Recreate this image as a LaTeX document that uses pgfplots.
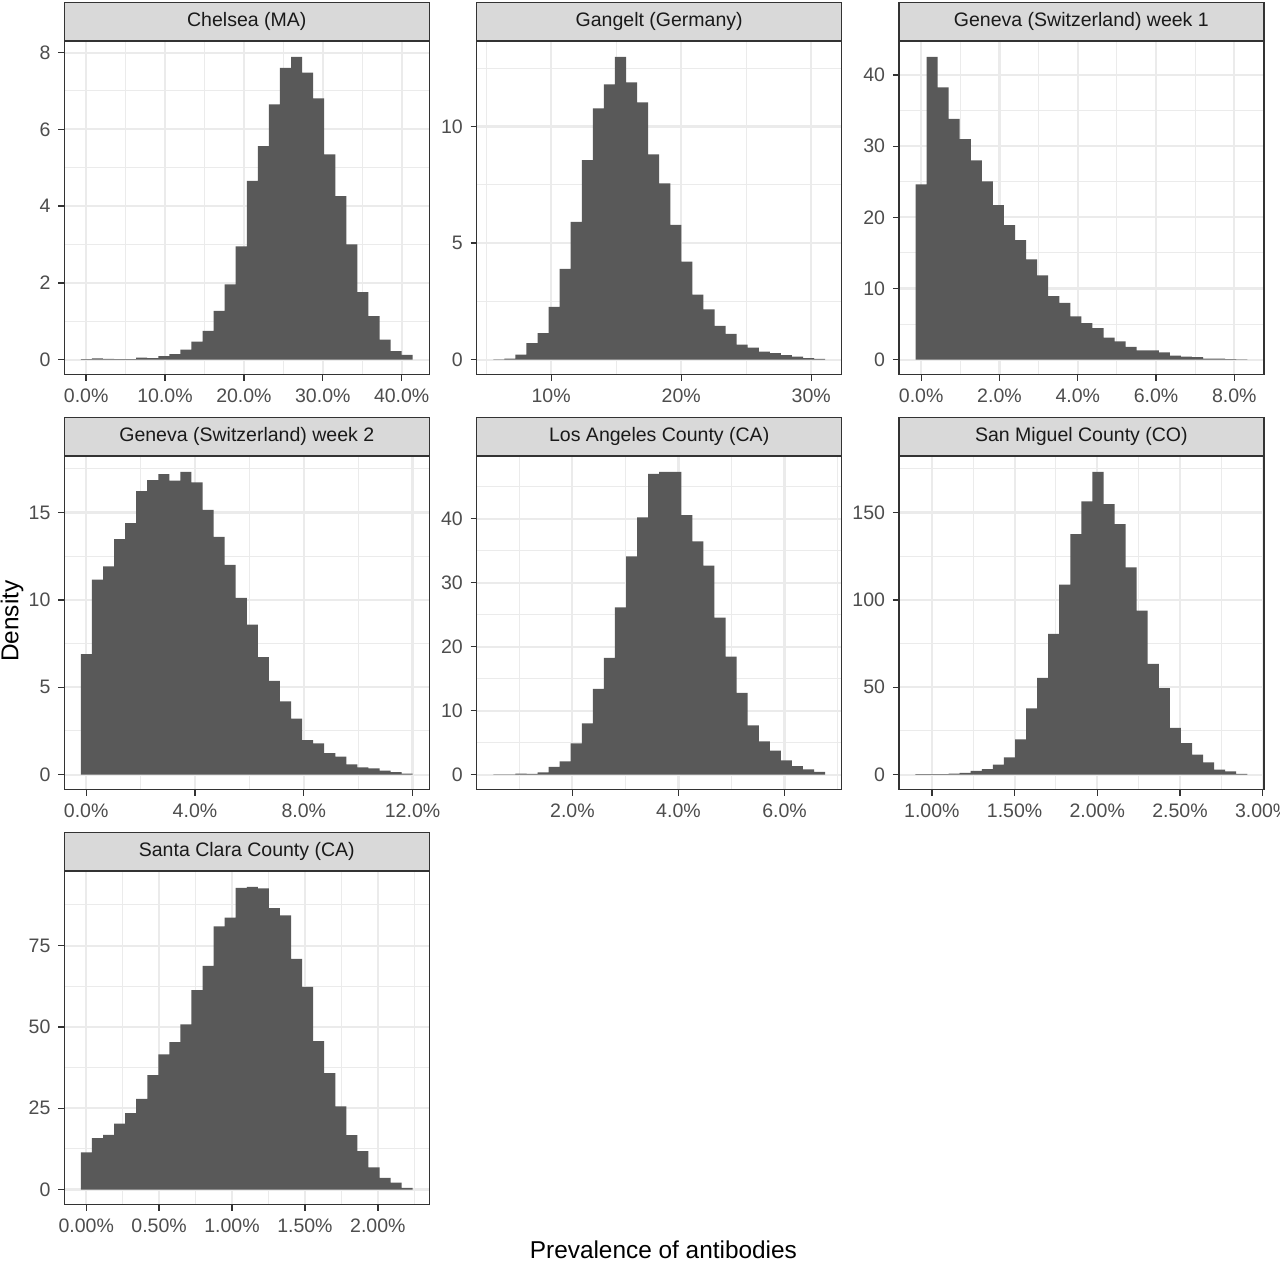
\documentclass[border=0pt]{standalone}
\usepackage{pgfplots}
\pgfplotsset{compat=1.18}
\usepackage{fontspec}
\setmainfont{Liberation Sans}
\definecolor{barfill}{HTML}{595959}
\definecolor{stripfill}{HTML}{D9D9D9}
\definecolor{framec}{HTML}{333333}
\definecolor{gridc}{HTML}{EBEBEB}
\definecolor{ticklab}{HTML}{4D4D4D}
\definecolor{striptext}{HTML}{1A1A1A}
\tikzset{strip/.style={anchor=south, fill=stripfill, draw=framec,
      line width=0.6pt, minimum width=164.6pt, minimum height=17.4pt, inner sep=0pt,
      font=\fontsize{8.8}{10}\selectfont, text=striptext}}
\pgfplotsset{
  facet/.style={
    scale only axis, width=164.6pt, height=150.2pt, anchor=north west,
    clip=false,
    axis line style={draw=framec, line width=0.6pt},
    tick align=outside, major tick length=2.75pt, minor tick length=0pt,
    xtick pos=left, ytick pos=left,
    tick style={draw=framec, line width=0.6pt},
    grid=both,
    major grid style={draw=gridc, line width=0.95pt},
    minor grid style={draw=gridc, line width=0.45pt},
    tick label style={font=\fontsize{8.8}{10}\selectfont, text=ticklab},
    /pgf/number format/assume math mode=true,
    scaled ticks=false,
  },
  pct1/.style={xticklabel={\pgfmathprintnumber[fixed,fixed zerofill,precision=1]{\tick}\%}},
  pct0/.style={xticklabel={\pgfmathprintnumber[fixed,precision=0]{\tick}\%}},
  pct2/.style={xticklabel={\pgfmathprintnumber[fixed,fixed zerofill,precision=2]{\tick}\%}},
  hist/.style={fill=barfill, draw=none, const plot, mark=none},
}
\begin{document}
\begin{tikzpicture}
\path[use as bounding box] (0,0) rectangle (577.28pt,-569.61pt);

% Chelsea
\begin{axis}[facet, pct1, at={(29.0pt,-18.8pt)},
  xmin=-2.77, xmax=43.50, ymin=-0.3945, ymax=8.2845,
  xtick={0,10,20,30,40}, minor xtick={5,15,25,35},
  ytick={0,2,4,6,8}, minor ytick={1,3,5,7}]
\addplot[hist] coordinates {
(-0.670,0.01) (0.732,0.03) (2.135,0.02) (3.537,0.01) (4.939,0.01)
(6.342,0.05) (7.744,0.04) (9.146,0.09) (10.548,0.14) (11.951,0.26)
(13.353,0.47) (14.755,0.75) (16.158,1.27) (17.560,1.96) (18.962,2.95)
(20.365,4.66) (21.767,5.56) (23.169,6.65) (24.571,7.60) (25.974,7.89)
(27.376,7.48) (28.778,6.81) (30.181,5.35) (31.583,4.26) (32.985,3.00)
(34.388,1.76) (35.790,1.13) (37.192,0.52) (38.594,0.22) (39.997,0.12)
(41.399,0.12)} \closedcycle;
\node[strip] at (rel axis cs:0.5,1) {Chelsea (MA)};
\end{axis}

% Gangelt
\begin{axis}[facet, pct0, at={(215.0pt,-18.8pt)},
  xmin=4.274, xmax=32.346, ymin=-0.65, ymax=13.64,
  xtick={10,20,30}, minor xtick={5,15,25},
  ytick={0,5,10}, minor ytick={2.5,7.5,12.5}]
\addplot[hist] coordinates {
(5.550,0.01) (6.401,0.04) (7.251,0.21) (8.102,0.71) (8.953,1.13)
(9.804,2.26) (10.654,3.89) (11.505,5.91) (12.356,8.56) (13.206,10.78)
(14.057,11.81) (14.908,12.99) (15.758,11.89) (16.609,11.04) (17.460,8.80)
(18.311,7.56) (19.161,5.78) (20.012,4.20) (20.863,2.79) (21.713,2.15)
(22.564,1.45) (23.415,1.10) (24.265,0.64) (25.116,0.51) (25.967,0.34)
(26.818,0.28) (27.668,0.19) (28.519,0.13) (29.370,0.06) (30.220,0.03)
(31.071,0.03)} \closedcycle;
\node[strip] at (rel axis cs:0.5,1) {Gangelt (Germany)};
\end{axis}

% Geneva week 1
\begin{axis}[facet, pct1, at={(405.4pt,-18.8pt)},
  xmin=-0.569, xmax=8.755, ymin=-2.128, ymax=44.69,
  xtick={0,2,4,6,8}, minor xtick={1,3,5,7},
  ytick={0,10,20,30,40}, minor ytick={5,15,25,35}]
\addplot[hist] coordinates {
(-0.145,24.64) (0.138,42.56) (0.420,38.26) (0.703,33.83) (0.985,30.98)
(1.268,28.00) (1.550,25.06) (1.833,21.70) (2.115,18.90) (2.398,16.80)
(2.680,14.09) (2.963,11.85) (3.245,8.91) (3.528,7.98) (3.810,6.07)
(4.093,5.13) (4.375,4.43) (4.658,3.08) (4.941,2.57) (5.223,1.77)
(5.506,1.31) (5.788,1.31) (6.071,1.03) (6.353,0.56) (6.636,0.42)
(6.918,0.33) (7.201,0.14) (7.483,0.12) (7.766,0.05) (8.048,0.04)
(8.331,0.04)} \closedcycle;
\node[strip] at (rel axis cs:0.5,1) {Geneva (Switzerland) week 1};
\end{axis}

% Geneva week 2
\begin{axis}[facet, pct1, at={(29.0pt,-206.0pt)},
  xmin=-0.805, xmax=12.615, ymin=-0.866, ymax=18.19,
  xtick={0,4,8,12}, minor xtick={2,6,10},
  ytick={0,5,10,15}, minor ytick={2.5,7.5,12.5,17.5}]
\addplot[hist] coordinates {
(-0.195,6.90) (0.212,11.16) (0.618,11.92) (1.025,13.48) (1.432,14.39)
(1.838,16.22) (2.245,16.86) (2.652,17.19) (3.058,16.83) (3.465,17.32)
(3.872,16.73) (4.278,15.15) (4.685,13.61) (5.092,12.00) (5.498,10.11)
(5.905,8.59) (6.312,6.73) (6.718,5.36) (7.125,4.20) (7.532,3.21)
(7.938,1.98) (8.345,1.79) (8.752,1.24) (9.158,1.03) (9.565,0.59)
(9.972,0.42) (10.378,0.36) (10.785,0.23) (11.192,0.15) (11.598,0.06)
(12.005,0.06)} \closedcycle;
\node[strip] at (rel axis cs:0.5,1) {Geneva (Switzerland) week 2};
\end{axis}

% Los Angeles
\begin{axis}[facet, pct1, at={(215.0pt,-206.0pt)},
  xmin=0.195, xmax=7.078, ymin=-2.367, ymax=49.70,
  xtick={2,4,6}, minor xtick={1,3,5,7},
  ytick={0,10,20,30,40}, minor ytick={5,15,25,35,45}]
\addplot[hist] coordinates {
(0.508,0.03) (0.717,0.03) (0.925,0.15) (1.134,0.12) (1.342,0.36)
(1.551,1.20) (1.759,2.08) (1.968,4.89) (2.177,8.01) (2.385,13.42)
(2.594,18.26) (2.802,26.16) (3.011,34.12) (3.219,40.21) (3.428,47.02)
(3.637,47.33) (3.845,47.33) (4.054,40.57) (4.262,36.46) (4.471,32.67)
(4.679,24.55) (4.888,18.47) (5.097,12.80) (5.305,7.70) (5.514,5.20)
(5.722,3.75) (5.931,2.24) (6.139,1.35) (6.348,0.83) (6.557,0.42)
(6.765,0.42)} \closedcycle;
\node[strip] at (rel axis cs:0.5,1) {Los Angeles County (CA)};
\end{axis}

% San Miguel
\begin{axis}[facet, pct2, at={(405.4pt,-206.0pt)},
  xmin=0.8007, xmax=3.0073, ymin=-8.66, ymax=181.86,
  xtick={1,1.5,2,2.5,3}, minor xtick={1.25,1.75,2.25,2.75},
  ytick={0,50,100,150}, minor ytick={25,75,125,175}]
\addplot[hist] coordinates {
(0.901,0.3) (0.968,0.3) (1.035,0.3) (1.102,0.6) (1.168,1.0)
(1.235,2.1) (1.302,3.2) (1.369,5.7) (1.436,9.9) (1.503,20.2)
(1.570,37.9) (1.637,55.4) (1.703,80.5) (1.770,108.7) (1.837,137.6)
(1.904,156.3) (1.971,173.2) (2.038,154.8) (2.105,143.3) (2.171,118.6)
(2.238,93.9) (2.305,63.4) (2.372,49.5) (2.439,26.7) (2.506,18.1)
(2.573,11.4) (2.640,7.0) (2.706,2.9) (2.773,1.9) (2.840,0.4)
(2.907,0.4)} \closedcycle;
\node[strip] at (rel axis cs:0.5,1) {San Miguel County (CO)};
\end{axis}

% Santa Clara
\begin{axis}[facet, pct2, at={(29.0pt,-393.1pt)},
  xmin=-0.1503, xmax=2.3528, ymin=-4.655, ymax=97.76,
  xtick={0,0.5,1,1.5,2}, minor xtick={0.25,0.75,1.25,1.75,2.25},
  ytick={0,25,50,75}, minor ytick={12.5,37.5,62.5,87.5}]
\addplot[hist] coordinates {
(-0.0365,11.4) (0.0394,15.8) (0.1152,16.8) (0.1911,20.3) (0.2669,23.5)
(0.3428,27.9) (0.4186,35.2) (0.4945,41.6) (0.5703,45.3) (0.6462,50.8)
(0.7220,61.3) (0.7979,68.8) (0.8737,80.9) (0.9496,83.6) (1.0254,92.8)
(1.1013,93.1) (1.1771,92.6) (1.2530,86.5) (1.3288,84.3) (1.4047,70.9)
(1.4805,62.3) (1.5564,45.6) (1.6322,35.8) (1.7081,25.6) (1.7839,16.7)
(1.8598,11.8) (1.9356,6.8) (2.0115,3.6) (2.0873,2.1) (2.1632,0.5)
(2.2390,0.5)} \closedcycle;
\node[strip] at (rel axis cs:0.5,1) {Santa Clara County (CA)};
\end{axis}

\node[rotate=90, anchor=base, font=\fontsize{11}{13}\selectfont] at (8.25pt,-280.1pt) {Density};
\node[anchor=base, font=\fontsize{11}{13}\selectfont] at (299.2pt,-567.4pt) {Prevalence of antibodies};
\end{tikzpicture}
\end{document}
